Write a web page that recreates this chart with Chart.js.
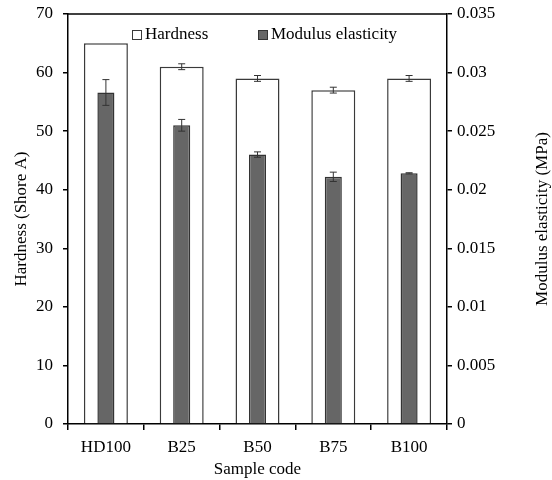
<!DOCTYPE html>
<html>
<head>
<meta charset="utf-8">
<script src="https://cdn.jsdelivr.net/npm/chart.js@4.4.1/dist/chart.umd.min.js"></script>
<style>
  html, body { margin: 0; padding: 0; background: #fff; }
  #wrap { width: 552px; height: 480px; position: relative; }
</style>
</head>
<body>
<div id="wrap"><canvas id="chart"></canvas></div>
<script>
// Hardness and modulus per sample
const samples = ['HD100', 'B25', 'B50', 'B75', 'B100'];
const hardness = [65, 61, 59, 57, 59];
const hardnessErr = [0, 0.5, 0.5, 0.5, 0.5];
const modulus = [0.0283, 0.0255, 0.0230, 0.0211, 0.0214];
const modulusErr = [0.0011, 0.0005, 0.00023, 0.0004, 0.00005];

const serif = "'Liberation Serif', 'Times New Roman', serif";
const errors = [hardnessErr, modulusErr];

// error bars drawn on top of each bar
const errorBars = {
    id: 'errorBars',
    afterDatasetsDraw(chart) {
        const ctx = chart.ctx;
        ctx.save();
        ctx.strokeStyle = '#333';
        ctx.lineWidth = 1;
        chart.data.datasets.forEach((ds, i) => {
            const meta = chart.getDatasetMeta(i);
            const scale = chart.scales[ds.yAxisID];
            meta.data.forEach((bar, j) => {
                const err = errors[i][j];
                if (!err) return;
                const yTop = scale.getPixelForValue(ds.data[j] + err);
                const yBot = scale.getPixelForValue(ds.data[j] - err);
                ctx.beginPath();
                ctx.moveTo(bar.x, yTop);
                ctx.lineTo(bar.x, yBot);
                ctx.moveTo(bar.x - 3.5, yTop);
                ctx.lineTo(bar.x + 3.5, yTop);
                ctx.moveTo(bar.x - 3.5, yBot);
                ctx.lineTo(bar.x + 3.5, yBot);
                ctx.stroke();
            });
        });
        ctx.restore();
    }
};

// top frame line, legend inside the plot and right axis title
const decorations = {
    id: 'decorations',
    afterDraw(chart) {
        const ctx = chart.ctx;
        const area = chart.chartArea;
        ctx.save();
        ctx.strokeStyle = '#000';
        ctx.lineWidth = 1.5;
        ctx.beginPath();
        ctx.moveTo(area.left, area.top);
        ctx.lineTo(area.right, area.top);
        ctx.stroke();

        // legend
        ctx.font = '17px ' + serif;
        ctx.textBaseline = 'middle';
        ctx.fillStyle = '#000';
        const items = [
            { x: 132, ds: chart.data.datasets[0] },
            { x: 258, ds: chart.data.datasets[1] }
        ];
        items.forEach(it => {
            ctx.fillStyle = it.ds.backgroundColor;
            ctx.fillRect(it.x, 30, 10, 10);
            ctx.strokeStyle = it.ds.borderColor;
            ctx.lineWidth = 1;
            ctx.strokeRect(it.x + 0.5, 30.5, 9, 9);
            ctx.fillStyle = '#000';
            ctx.textAlign = 'left';
            ctx.fillText(it.ds.label, it.x + 13, 35);
        });

        // right axis title, reading upward
        ctx.translate(543, (area.top + area.bottom) / 2);
        ctx.rotate(-Math.PI / 2);
        ctx.textAlign = 'center';
        ctx.fillText('Modulus elasticity (MPa)', 0, 0);
        ctx.restore();
    }
};

// fixed axis box sizes so the plot area lands in the same place
function fixWidth(w) {
    return scale => {
        scale.width = w;
        scale.paddingTop = 0;
        scale.paddingBottom = 0;
    };
}

new Chart(document.getElementById('chart'), {
    type: 'bar',
    data: {
        labels: samples,
        datasets: [
            {
                label: 'Hardness',
                data: hardness,
                yAxisID: 'y',
                backgroundColor: '#ffffff',
                borderColor: '#3a3a3a',
                borderWidth: 1.5,
                grouped: false,
                barPercentage: 1,
                categoryPercentage: 0.58,
                order: 2
            },
            {
                label: 'Modulus elasticity',
                data: modulus,
                yAxisID: 'y2',
                backgroundColor: '#666666',
                borderColor: '#333333',
                borderWidth: 1.5,
                grouped: false,
                barPercentage: 1,
                categoryPercentage: 0.225,
                order: 1
            }
        ]
    },
    options: {
        responsive: true,
        maintainAspectRatio: false,
        animation: false,
        layout: { padding: { top: 14, left: 0, right: 0, bottom: 0 } },
        plugins: {
            legend: { display: false },
            tooltip: { enabled: false }
        },
        scales: {
            x: {
                offset: true,
                border: { color: '#000', width: 1.5 },
                grid: { drawOnChartArea: false, offset: true, tickLength: 6, color: '#000', lineWidth: 1.5 },
                ticks: { color: '#000', font: { family: serif, size: 17 }, padding: 7 },
                title: { display: true, text: 'Sample code', color: '#000', font: { family: serif, size: 17 }, padding: { top: -1, bottom: 0 } },
                afterFit(scale) {
                    scale.height = 56;
                    scale.paddingLeft = 0;
                    scale.paddingRight = 0;
                }
            },
            y: {
                position: 'left',
                min: 0,
                max: 70,
                ticks: { stepSize: 10, color: '#000', font: { family: serif, size: 17 }, padding: 10 },
                border: { color: '#000', width: 1.5 },
                grid: { drawOnChartArea: false, tickLength: 5, color: '#000', lineWidth: 1.5 },
                title: { display: true, text: 'Hardness (Shore A)', color: '#000', font: { family: serif, size: 17 }, padding: { top: 11, bottom: 0 } },
                afterFit: fixWidth(68)
            },
            y2: {
                position: 'right',
                min: 0,
                max: 0.035,
                ticks: {
                    stepSize: 0.005,
                    color: '#000',
                    font: { family: serif, size: 17 },
                    padding: 5,
                    callback: v => String(Number(v.toFixed(3)))
                },
                border: { color: '#000', width: 1.5 },
                grid: { drawOnChartArea: false, tickLength: 5, color: '#000', lineWidth: 1.5 },
                afterFit: fixWidth(105)
            }
        }
    },
    plugins: [errorBars, decorations]
});
</script>
</body>
</html>
